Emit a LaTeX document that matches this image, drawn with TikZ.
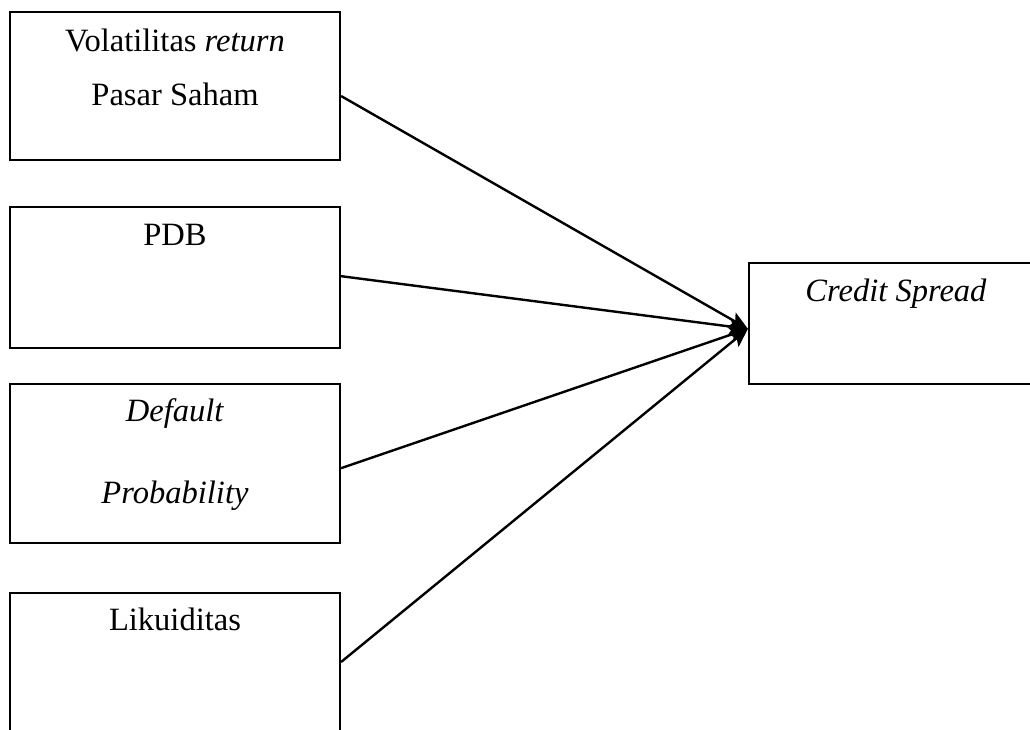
\documentclass[tikz,border=0pt]{standalone}
\usepackage{fontspec}
\setmainfont{Liberation Serif}
\usetikzlibrary{arrows.meta,positioning}
\tikzset{
  varbox/.style={draw, line width=1.6pt, inner sep=0pt},
  varlbl/.style={anchor=base, inner sep=0pt, font=\fontsize{24.4}{29}\selectfont},
  link/.style={line width=1.8pt, -{Stealth[length=14pt,width=12pt,inset=3pt]}}
}

\begin{document}
\begin{tikzpicture}[x=0.75pt,y=-0.75pt]
\clip (0,0) rectangle (1030,729);
% left side: independent variables
\node[varbox, minimum width=247.5pt, minimum height=111pt] (vol) at (175,86) {};
\node[varbox, minimum width=247.5pt, minimum height=105.75pt] (pdb) at (175,277.5) {};
\node[varbox, minimum width=247.5pt, minimum height=119.25pt] (dp) at (175,463.5) {};
\node[varbox, minimum width=247.5pt, minimum height=112.5pt] (lik) at (175,668) {};
% right side: dependent variable
\node[varbox, minimum width=220.5pt, minimum height=90.75pt] (cs) at (896,323.5) {};

\node[varlbl] (volA) at ([yshift=-30.75pt]vol.north) {Volatilitas \textit{return}};
\node[varlbl] (volB) at ([yshift=-40.5pt]volA.base) {Pasar Saham};
\node[varlbl] (pdbA) at ([yshift=-30pt]pdb.north) {PDB};
\node[varlbl] (dpA) at ([yshift=-29.25pt]dp.north) {\textit{Default}};
\node[varlbl] (dpB) at ([yshift=-61.5pt]dpA.base) {\textit{Probability}};
\node[varlbl] (likA) at ([yshift=-29.25pt]lik.north) {Likuiditas};
\node[varlbl] (csA) at ([yshift=-30pt]cs.north) {\textit{Credit Spread}};

\coordinate (tip) at ([yshift=-4pt]cs.west);
\draw[link] ([yshift=-7.5pt]vol.east) -- (tip);
\draw[link] ([yshift=1pt]pdb.east) -- (tip);
\draw[link] ([yshift=-3.5pt]dp.east) -- (tip);
\draw[link] ([yshift=4.5pt]lik.east) -- (tip);
\end{tikzpicture}
\end{document}
